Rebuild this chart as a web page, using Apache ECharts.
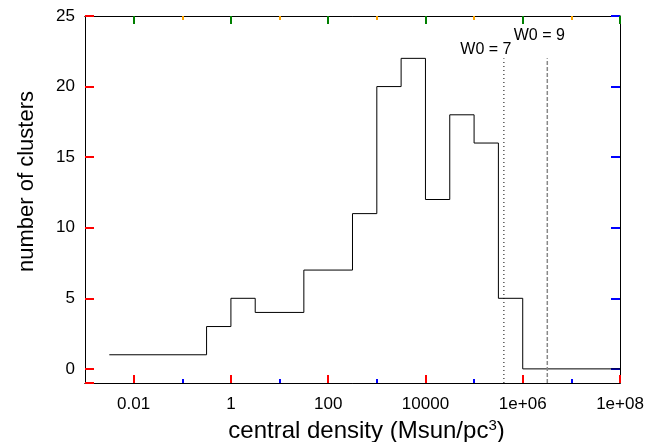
<!DOCTYPE html>
<html>
<head>
<meta charset="utf-8">
<script src="https://cdn.jsdelivr.net/npm/echarts@6/dist/echarts.min.js"></script>
<style>
html,body{margin:0;padding:0;background:#fff;}
#chart{width:662px;height:442px;}
</style>
</head>
<body>
<div id="chart"></div>
<script>
const binEdges = [0.00316, 0.316, 1, 3.16, 31.6, 316, 1000, 3160, 10000, 31600, 100000, 316000, 1000000, 100000000];
const clusterCounts = [1, 3, 5, 4, 7, 11, 20, 22, 12, 18, 16, 5, 0, 0];
const w0Names = ['W0 = 7', 'W0 = 9'];
const w0Density = [410000, 3200000];
const w0Top = [22, 22];
const xTickValues = [0.01, 1, 100, 10000, 1000000, 100000000];
const xTickLabels = ['0.01', '1', '100', '10000', '1e+06', '1e+08'];
const xMinorTicks = [0.1, 10, 1000, 100000, 10000000];
const yTickValues = [0, 5, 10, 15, 20, 25];
const FONT = '"Liberation Sans", Arial, Helvetica, sans-serif';
const chart = echarts.init(document.getElementById('chart'), null, {renderer: 'canvas'});
function xLabel(v) {
  let best = 0, bd = Infinity;
  for (let i = 0; i < xTickValues.length; i++) {
    const d = Math.abs(Math.log10(v) - Math.log10(xTickValues[i]));
    if (d < bd) { bd = d; best = i; }
  }
  return xTickLabels[best];
}
function logAxis(pos, ticks, len, showLabel, col) {
  return {
    type: 'log', logBase: 10, min: 0.001, max: 100000000, position: pos,
    axisLine: {show: true, onZero: false, lineStyle: {color: '#000', width: 1}},
    axisTick: {show: true, inside: true, length: len, customValues: ticks, lineStyle: {color: col, width: 2}},
    axisLabel: showLabel ? {show: true, customValues: ticks, formatter: xLabel, margin: 13,
      color: '#000', fontSize: 17, fontFamily: FONT} : {show: false},
    splitLine: {show: false}
  };
}
const xAxes = [
  logAxis('bottom', xTickValues, 8, true, 'red'),
  logAxis('bottom', xMinorTicks, 4, false, 'blue'),
  logAxis('top', xTickValues, 8, false, 'green'),
  logAxis('top', xMinorTicks, 4, false, 'orange')
];
xAxes[0].name = 'central density (Msun/pc{sup|3})';
xAxes[0].nameLocation = 'middle';
xAxes[0].nameGap = 33;
xAxes[0].nameTextStyle = {color: '#000', fontSize: 24, fontFamily: FONT, padding: [0, 0, 0, 28],
  rich: {sup: {fontSize: 15, fontFamily: FONT, color: '#000', verticalAlign: 'top', padding: [0, 0, 12, 0]}}};
function yAxis(pos, showLabel) {
  const a = {
    type: 'value', min: -1, max: 25, splitNumber: 5, position: pos,
    axisLine: {show: true, onZero: false, lineStyle: {color: '#000', width: 1}},
    axisTick: {show: true, inside: true, length: 9, lineStyle: {color: showLabel ? 'red' : 'blue', width: 2}},
    axisLabel: showLabel ? {show: true, customValues: yTickValues, margin: 10, color: '#000', fontSize: 17, fontFamily: FONT} : {show: false},
    splitLine: {show: false}
  };
  if (showLabel) {
    a.name = 'number of clusters';
    a.nameLocation = 'middle';
    a.nameGap = 47;
    a.nameTextStyle = {color: '#000', fontSize: 22, fontFamily: FONT, padding: [0, 0, 0, 36]};
  } else {
    a.axisTick.customValues = yTickValues;
  }
  return a;
}
const histData = binEdges.map((x, i) => [x, clusterCounts[i]]);
const w0Styles = [
  {color: '#000', width: 1, type: [1, 3]},
  {color: '#888', width: 1.5, type: [4, 2]}
];
const w0LabelPos = [
  {distance: 0, offset: [-18, 0]},
  {distance: 14, offset: [-8, 0]}
];
const w0Series = w0Names.map((name, i) => ({
  type: 'line', name: name, xAxisIndex: 0, yAxisIndex: 0,
  symbol: 'circle', symbolSize: 1, showSymbol: true, silent: true, animation: false,
  itemStyle: {color: 'rgba(0,0,0,0)'},
  lineStyle: w0Styles[i],
  label: {show: false},
  data: [
    {value: [w0Density[i], -1]},
    {value: [w0Density[i], w0Top[i]],
     label: {show: true, position: 'top', distance: w0LabelPos[i].distance, offset: w0LabelPos[i].offset,
       formatter: name, color: '#000', fontSize: 16, fontFamily: FONT}}
  ]
}));
chart.setOption({
  backgroundColor: '#fff',
  animation: false,
  grid: {left: 85, right: 42, top: 16, bottom: 59, containLabel: false, outerBoundsMode: 'none'},
  xAxis: xAxes,
  yAxis: [yAxis('left', true), yAxis('right', false)],
  series: [
    {type: 'line', name: 'clusters', step: 'end', xAxisIndex: 0, yAxisIndex: 0,
     symbol: 'none', lineStyle: {color: '#000', width: 1}, data: histData}
  ].concat(w0Series)
});
</script>
</body>
</html>
